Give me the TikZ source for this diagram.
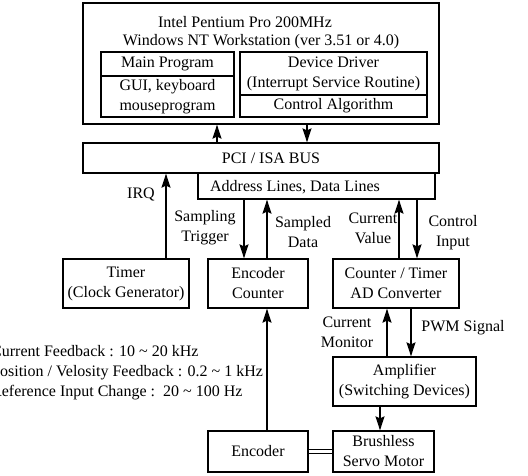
\documentclass[tikz,border=0pt]{standalone}
\usepackage{fontspec}
\setmainfont{Liberation Serif}
\usetikzlibrary{arrows.meta,positioning}

\begin{document}
\begin{tikzpicture}[x=1pt,y=-1pt,
    box/.style={draw, line width=1.3pt, rectangle, inner sep=0pt, align=center},
    arr/.style={line width=1.3pt, -{Stealth[length=14pt,width=9pt,inset=2pt]}},
    lbl/.style={inner sep=0pt, align=center},
    font=\fontsize{16}{20}\selectfont]
        \useasboundingbox (0,0) rectangle (528,475);
        % PC side
        \node[box, minimum width=356, minimum height=121] (pc) at (261,63.5) {};
        \node[lbl] (cpu) at (245,22) {Intel Pentium Pro 200MHz};
        \node[lbl] (os) at (261,42) {Windows NT Workstation (ver 3.51 or 4.0)};
        \node[box, minimum width=133, minimum height=24] (mainprog) at (167.5,64) {Main Program};
        \node[box, minimum width=133, minimum height=41] (gui) at (167.5,96.5) {GUI, keyboard\\mouseprogram};
        \node[box, minimum width=187, minimum height=43] (driver) at (333.5,73.5) {Device Driver\\(Interrupt Service Routine)};
        \node[box, minimum width=187, minimum height=22] (ctrl) at (333.5,106) {Control Algorithm};
        % bus
        \node[box, minimum width=356, minimum height=30] (bus) at (261,158) {};
        \node[lbl] (buslbl) at (271,158) {PCI / ISA BUS};
        \node[box, minimum width=237, minimum height=26] (addr) at (316.5,186) {};
        \node[lbl] (addrlbl) at (295,187) {Address Lines, Data Lines};
        % interface boards
        \node[box, minimum width=126, minimum height=49] (timer) at (126,283.5) {Timer\\(Clock Generator)};
        \node[box, minimum width=100, minimum height=49] (enccnt) at (258,283.5) {Encoder\\Counter};
        \node[box, minimum width=126, minimum height=49] (adc) at (396,283.5) {Counter / Timer\\AD Converter};
        \node[box, minimum width=143, minimum height=49] (amp) at (404.5,381.5) {Amplifier\\(Switching Devices)};
        \node[box, minimum width=101, minimum height=41] (motor) at (383.5,451.5) {Brushless\\Servo Motor};
        \node[box, minimum width=100, minimum height=41] (encoder) at (258,451.5) {Encoder};

        \draw[arr] ([xshift=-44pt]bus.north) -- ([xshift=-44pt]bus.north |- pc.south);
        \draw[arr] ([xshift=46pt]pc.south) -- ([xshift=46pt]pc.south |- bus.north);
        \draw[arr] ([xshift=40pt]timer.north) -- ([xshift=40pt]timer.north |- bus.south);
        \draw[arr] ([xshift=-14pt]enccnt.north |- addr.south) -- ([xshift=-14pt]enccnt.north);
        \draw[arr] ([xshift=9pt]enccnt.north) -- ([xshift=9pt]enccnt.north |- addr.south);
        \draw[arr] ([xshift=3pt]adc.north) -- ([xshift=3pt]adc.north |- addr.south);
        \draw[arr] ([xshift=21pt]adc.north |- addr.south) -- ([xshift=21pt]adc.north);
        \draw[arr] ([xshift=-9pt]adc.south |- amp.north) -- ([xshift=-9pt]adc.south);
        \draw[arr] ([xshift=15pt]adc.south) -- ([xshift=15pt]adc.south |- amp.north);
        \draw[arr] ([xshift=-3.5pt]motor.north |- amp.south) -- ([xshift=-3.5pt]motor.north);
        \draw[arr] ([xshift=9pt]encoder.north) -- ([xshift=9pt]encoder.north |- enccnt.south);
        \draw[line width=0.8pt, double, double distance=2.5pt] (encoder.east) -- (motor.west);

        % connector labels
        \node[lbl] (irq) at (141,194) {IRQ};
        \node[lbl] (trig) at (205,228) {Sampling\\Trigger};
        \node[lbl] (sdata) at (303,232) {Sampled\\Data};
        \node[lbl] (cval) at (373,228) {Current\\Value};
        \node[lbl] (cinp) at (453,233) {Control\\Input};
        \node[lbl] (cmon) at (347,332) {Current\\Monitor};
        \node[lbl] (pwm) at (463,328) {PWM Signal};
        % sampling rates
        \node[lbl, anchor=west, align=left] (rates) at (-9,373) {Current Feedback : 10 \textasciitilde{} 20 kHz\\Position / Velosity Feedback : 0.2 \textasciitilde{} 1 kHz\\Reference Input Change :\ \ 20 \textasciitilde{} 100 Hz};
\end{tikzpicture}
\end{document}
